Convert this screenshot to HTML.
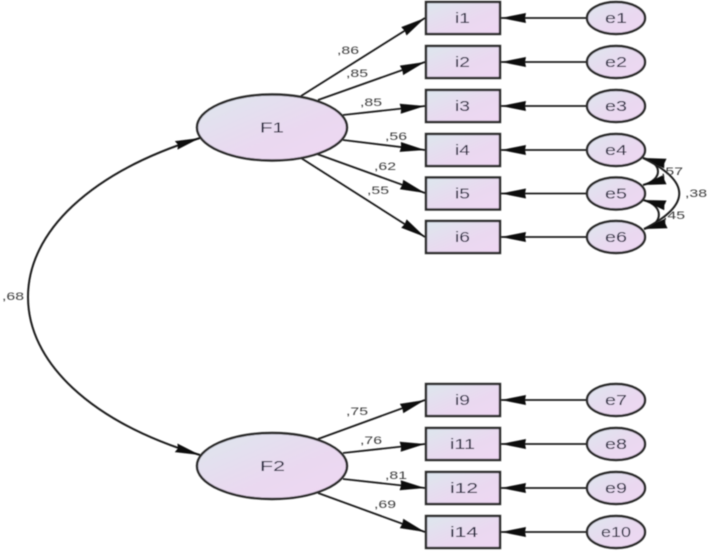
<!DOCTYPE html>
<html><head><meta charset="utf-8"><style>
html,body{margin:0;padding:0;background:#fff}
svg{display:block}
text{font-family:"Liberation Sans",sans-serif}
.n{font-size:14.5px;fill:#23233a}
.l{font-size:11px;fill:#3c3c3c}
.r{stroke:#2c2c2c;stroke-width:2.4;fill:url(#g)}
.a{stroke:#1c1c1c;stroke-width:1.8;fill:none;marker-end:url(#m)}
.c{stroke:#1c1c1c;stroke-width:2;fill:none}
</style></head><body>
<svg width="708" height="551" viewBox="0 0 708 551" xmlns="http://www.w3.org/2000/svg">
<defs>
<linearGradient id="g" x1="0" y1="0" x2="1" y2="1"><stop offset="0" stop-color="#dde7ee"/><stop offset=".55" stop-color="#e9d9f0"/><stop offset="1" stop-color="#efd7f3"/></linearGradient>
<marker id="m" markerUnits="userSpaceOnUse" markerWidth="26" markerHeight="12" refX="25" refY="6" orient="auto"><path d="M0 1L25 6L0 11L1 6Z" fill="#0c0c0c"/></marker>
<marker id="s" markerUnits="userSpaceOnUse" markerWidth="26" markerHeight="12" refX="25" refY="6" orient="auto-start-reverse"><path d="M0 1.500L25 6L0 10.500L2 6Z" fill="#0c0c0c"/></marker>
<marker id="t" markerUnits="userSpaceOnUse" markerWidth="24" markerHeight="14" refX="23" refY="7" orient="auto-start-reverse"><path d="M0 2L23 7L0 12L1 7Z" fill="#0c0c0c"/></marker>
<filter id="b" x="-2%" y="-2%" width="104%" height="104%"><feGaussianBlur stdDeviation="0.4"/></filter>
</defs>
<g filter="url(#b)">
<path class="c" d="M200 138C90 172 28 232 28 297C28 362 90 422 200 455" marker-start="url(#s)" marker-end="url(#s)"/>
<path class="a" d="M301 96L425 18"/><path class="a" d="M318 100L425 62"/><path class="a" d="M343 115L425 106"/><path class="a" d="M343 140L425 150"/><path class="a" d="M317 154L425 193"/><path class="a" d="M301 158L425 237"/>
<path class="a" d="M318 439L425 400"/><path class="a" d="M343 453L425 444"/><path class="a" d="M343 479L425 488"/><path class="a" d="M318 493L425 532"/>
<path class="a" d="M588 18L501 18"/><path class="a" d="M588 62L501 62"/><path class="a" d="M588 106L501 106"/><path class="a" d="M588 150L501 150"/><path class="a" d="M588 193.500L501 193.500"/><path class="a" d="M588 237L501 237"/>
<path class="a" d="M588 400L501 400"/><path class="a" d="M588 444L501 444"/><path class="a" d="M588 488L501 488"/><path class="a" d="M588 532L501 532"/>
<path class="c" d="M643 158C663 163 663 180 643 185" marker-start="url(#t)" marker-end="url(#t)"/>
<path class="c" d="M643 200C664 205 664 224 644 229" marker-start="url(#t)" marker-end="url(#t)"/>
<path class="c" d="M643 158Q715 193 644 229"/>
<rect class="r" x="426" y="2" width="74" height="32"/><rect class="r" x="426" y="46" width="74" height="32"/><rect class="r" x="426" y="90" width="74" height="32"/><rect class="r" x="426" y="134" width="74" height="32"/><rect class="r" x="426" y="177.500" width="74" height="32"/><rect class="r" x="426" y="221" width="74" height="32"/>
<rect class="r" x="426" y="384" width="74" height="32"/><rect class="r" x="426" y="428" width="74" height="32"/><rect class="r" x="426" y="472" width="74" height="32"/><rect class="r" x="426" y="516" width="74" height="32"/>
<ellipse class="r" cx="272" cy="127.500" rx="75" ry="33"/><ellipse class="r" cx="272" cy="466" rx="75" ry="33"/>
<ellipse class="r" cx="616" cy="18" rx="29" ry="16"/><ellipse class="r" cx="616" cy="62" rx="29" ry="16"/><ellipse class="r" cx="616" cy="106" rx="29" ry="16"/><ellipse class="r" cx="616" cy="150" rx="29" ry="16"/><ellipse class="r" cx="616" cy="193.500" rx="29" ry="16"/><ellipse class="r" cx="616" cy="237" rx="29" ry="16"/>
<ellipse class="r" cx="616" cy="400" rx="29" ry="16"/><ellipse class="r" cx="616" cy="444" rx="29" ry="16"/><ellipse class="r" cx="616" cy="488" rx="29" ry="16"/><ellipse class="r" cx="616" cy="532" rx="29" ry="16"/>
<text class="n" x="260" y="132.500" textLength="24" lengthAdjust="spacingAndGlyphs">F1</text>
<text class="n" x="260" y="471" textLength="25" lengthAdjust="spacingAndGlyphs">F2</text>
<text class="n" x="455" y="23" textLength="15" lengthAdjust="spacingAndGlyphs">i1</text>
<text class="n" x="455" y="67" textLength="15" lengthAdjust="spacingAndGlyphs">i2</text>
<text class="n" x="455" y="111" textLength="15" lengthAdjust="spacingAndGlyphs">i3</text>
<text class="n" x="455" y="155" textLength="15" lengthAdjust="spacingAndGlyphs">i4</text>
<text class="n" x="455" y="198.500" textLength="15" lengthAdjust="spacingAndGlyphs">i5</text>
<text class="n" x="455" y="242" textLength="15" lengthAdjust="spacingAndGlyphs">i6</text>
<text class="n" x="455" y="405" textLength="15" lengthAdjust="spacingAndGlyphs">i9</text>
<text class="n" x="450" y="449" textLength="25" lengthAdjust="spacingAndGlyphs">i11</text>
<text class="n" x="450" y="493" textLength="28" lengthAdjust="spacingAndGlyphs">i12</text>
<text class="n" x="450" y="537" textLength="28" lengthAdjust="spacingAndGlyphs">i14</text>
<text class="n" x="605" y="23" textLength="22" lengthAdjust="spacingAndGlyphs">e1</text>
<text class="n" x="605" y="67" textLength="22" lengthAdjust="spacingAndGlyphs">e2</text>
<text class="n" x="605" y="111" textLength="22" lengthAdjust="spacingAndGlyphs">e3</text>
<text class="n" x="605" y="155" textLength="22" lengthAdjust="spacingAndGlyphs">e4</text>
<text class="n" x="605" y="198.500" textLength="22" lengthAdjust="spacingAndGlyphs">e5</text>
<text class="n" x="605" y="242" textLength="22" lengthAdjust="spacingAndGlyphs">e6</text>
<text class="n" x="605" y="405" textLength="22" lengthAdjust="spacingAndGlyphs">e7</text>
<text class="n" x="605" y="449" textLength="22" lengthAdjust="spacingAndGlyphs">e8</text>
<text class="n" x="605" y="493" textLength="22" lengthAdjust="spacingAndGlyphs">e9</text>
<text class="n" x="601" y="537" textLength="30" lengthAdjust="spacingAndGlyphs">e10</text>
<text class="l" x="337" y="54" textLength="22" lengthAdjust="spacingAndGlyphs">,86</text>
<text class="l" x="346" y="77" textLength="22" lengthAdjust="spacingAndGlyphs">,85</text>
<text class="l" x="360" y="106" textLength="22" lengthAdjust="spacingAndGlyphs">,85</text>
<text class="l" x="385" y="140" textLength="22" lengthAdjust="spacingAndGlyphs">,56</text>
<text class="l" x="374" y="170" textLength="22" lengthAdjust="spacingAndGlyphs">,62</text>
<text class="l" x="367" y="194" textLength="22" lengthAdjust="spacingAndGlyphs">,55</text>
<text class="l" x="661" y="175" textLength="22" lengthAdjust="spacingAndGlyphs">,57</text>
<text class="l" x="685" y="197" textLength="22" lengthAdjust="spacingAndGlyphs">,38</text>
<text class="l" x="663" y="219" textLength="22" lengthAdjust="spacingAndGlyphs">,45</text>
<text class="l" x="2" y="300" textLength="22" lengthAdjust="spacingAndGlyphs">,68</text>
<text class="l" x="346" y="415" textLength="22" lengthAdjust="spacingAndGlyphs">,75</text>
<text class="l" x="360" y="444" textLength="22" lengthAdjust="spacingAndGlyphs">,76</text>
<text class="l" x="385" y="479" textLength="22" lengthAdjust="spacingAndGlyphs">,81</text>
<text class="l" x="374" y="508" textLength="22" lengthAdjust="spacingAndGlyphs">,69</text>
</g>
</svg>
</body></html>
